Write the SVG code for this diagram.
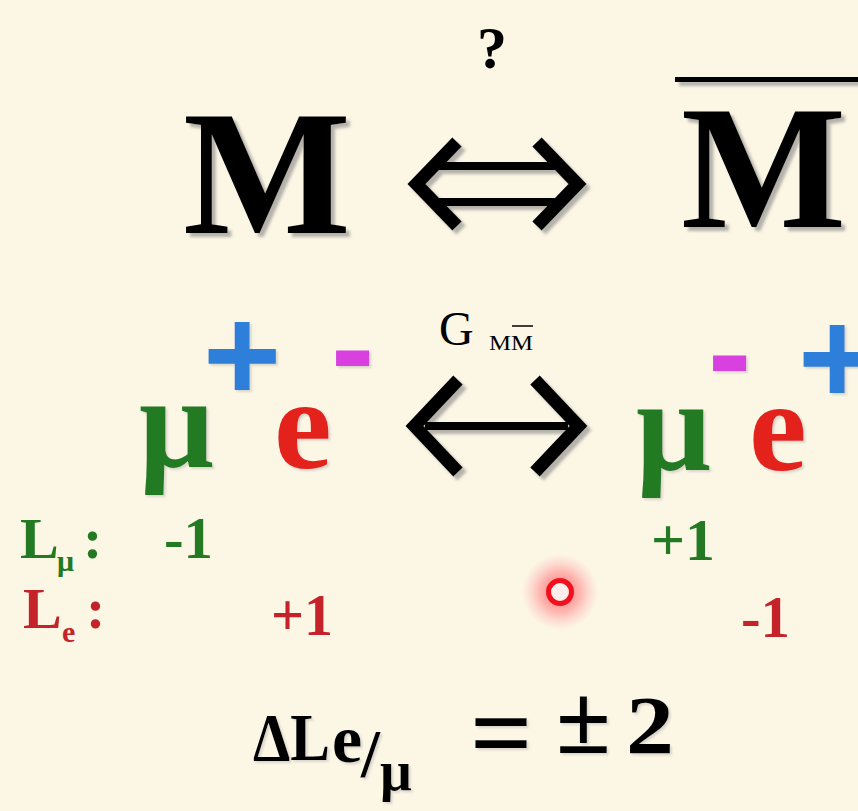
<svg xmlns="http://www.w3.org/2000/svg" width="858" height="811" viewBox="0 0 858 811">
<defs>
<style>
.serif{font-family:"Liberation Serif","Times New Roman",serif;}
.b{font-weight:bold;}
.blk{fill:#000;}
.grn{fill:#237a23;}
.red{fill:#e3201b;}
.dred{fill:#c4232a;}
.blu{fill:#2f7fd9;font-family:"Liberation Sans",Arial,sans-serif;font-weight:bold;}
.mag{fill:#d93fe0;font-family:"Liberation Sans",Arial,sans-serif;font-weight:bold;}
.head{fill:none;stroke:#000;stroke-width:13;stroke-linejoin:miter;stroke-miterlimit:10;}
.bar{stroke:#000;stroke-width:8;}
</style>
<filter id="sh" x="-20%" y="-20%" width="140%" height="140%">
<feDropShadow dx="4" dy="4" stdDeviation="1.6" flood-color="#7a7a7a" flood-opacity="0.55"/>
</filter>
<filter id="sh2" x="-20%" y="-20%" width="140%" height="140%">
<feDropShadow dx="2" dy="2" stdDeviation="1.2" flood-color="#999" flood-opacity="0.35"/>
</filter>
<radialGradient id="glow">
<stop offset="0" stop-color="#ff2838" stop-opacity="0.7"/>
<stop offset="0.55" stop-color="#ff4a5a" stop-opacity="0.35"/>
<stop offset="1" stop-color="#ff8090" stop-opacity="0"/>
</radialGradient>
</defs>
<rect width="858" height="811" fill="#fcf6e5"/>

<g id="question">
<text class="serif b blk" x="492" y="68" font-size="60" text-anchor="middle">?</text>
</g>

<g id="M" filter="url(#sh)">
<text class="serif b blk" x="183" y="233" font-size="178">M</text>
</g>
<g id="Mbar" filter="url(#sh)">
<rect x="675" y="77" width="183" height="5" fill="#000"/>
<text class="serif b blk" x="681" y="227" font-size="175">M</text>
</g>

<g id="connectors">
<g id="equiv-arrow" filter="url(#sh)">
<line class="bar" x1="430" y1="166" x2="564" y2="166"/>
<line class="bar" x1="430" y1="202" x2="564" y2="202"/>
<polyline class="head" points="457,142 416.5,184 457,226"/>
<polyline class="head" points="537,142 577.5,184 537,226"/>
</g>
<g id="conv-arrow" filter="url(#sh)">
<line class="bar" x1="425" y1="426" x2="568" y2="426"/>
<polyline class="head" points="458,380 414.5,426 458,472"/>
<polyline class="head" points="535,380 578.5,426 535,472"/>
</g>
</g>

<g id="G-label">
<text class="serif blk" x="439" y="345" font-size="48">G</text>
<text class="serif blk" x="489" y="350" font-size="22" textLength="44" lengthAdjust="spacingAndGlyphs">MM</text>
<line x1="512" y1="326" x2="533" y2="326" stroke="#000" stroke-width="1.5"/>
</g>

<g id="left-pair" filter="url(#sh2)">
<text class="serif b grn" x="139" y="467" font-size="132">μ</text>
<text class="blu" x="203" y="401" font-size="134">+</text>
<text class="serif b red" x="274" y="468" font-size="130">e</text>
<text class="mag" x="331" y="392" font-size="130">-</text>
</g>

<g id="right-pair" filter="url(#sh2)">
<text class="serif b grn" x="636" y="470" font-size="132">μ</text>
<text class="mag" x="708" y="397" font-size="130">-</text>
<text class="serif b red" x="749" y="470" font-size="130">e</text>
<text class="blu" x="798" y="404" font-size="134">+</text>
</g>

<g id="L-mu">
<text class="serif b grn" x="20" y="558" font-size="58">L</text>
<text class="serif b grn" x="57" y="571" font-size="30">μ</text>
<text class="serif b grn" x="83" y="558" font-size="58">:</text>
<text class="serif b grn" x="164" y="558" font-size="60" textLength="49" lengthAdjust="spacingAndGlyphs">-1</text>
<text class="serif b grn" x="651" y="560" font-size="60" textLength="64" lengthAdjust="spacingAndGlyphs">+1</text>
</g>

<g id="L-e">
<text class="serif b dred" x="23" y="628" font-size="58">L</text>
<text class="serif b dred" x="62" y="642" font-size="30">e</text>
<text class="serif b dred" x="86" y="628" font-size="58">:</text>
<text class="serif b dred" x="271" y="635" font-size="60" textLength="62" lengthAdjust="spacingAndGlyphs">+1</text>
<text class="serif b dred" x="741" y="637" font-size="60" textLength="49" lengthAdjust="spacingAndGlyphs">-1</text>
</g>

<g id="cursor">
<circle cx="560" cy="592" r="38" fill="url(#glow)"/>
<circle cx="560" cy="592" r="11.5" fill="#fdeeee" stroke="#f2101c" stroke-width="5"/>
</g>

<g id="equation" filter="url(#sh2)">
<text class="serif b blk" x="253" y="760" font-size="68" textLength="77" lengthAdjust="spacingAndGlyphs">ΔL</text>
<text class="serif b blk" x="332" y="762" font-size="68">e</text>
<text class="serif b blk" x="361" y="776" font-size="68">/</text>
<text class="serif b blk" x="380" y="790" font-size="56">μ</text>
<text class="serif b blk" x="470" y="770" font-size="110">=</text>
<text class="serif b blk" x="556" y="753" font-size="100">±</text>
<text class="serif b blk" x="626" y="753" font-size="82" textLength="48" lengthAdjust="spacingAndGlyphs">2</text>
</g>
</svg>
